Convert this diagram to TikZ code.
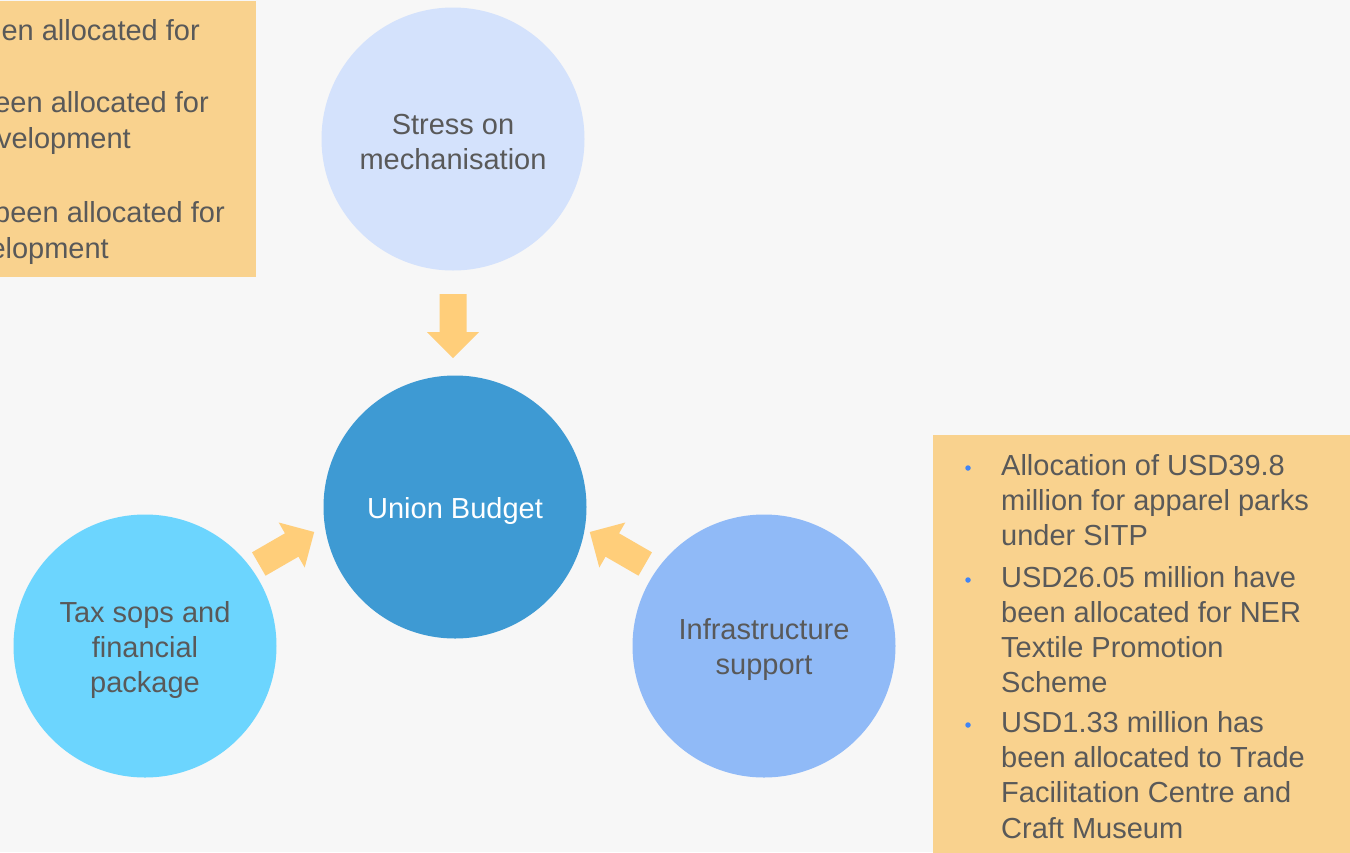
\documentclass[tikz,border=0pt]{standalone}
\usepackage{fontspec}
\setmainfont{Liberation Sans}
\definecolor{bg}{HTML}{F7F7F7}
\definecolor{boxc}{HTML}{F9D28E}
\definecolor{arr}{HTML}{FFCE7A}
\definecolor{txt}{HTML}{595959}
\definecolor{cstress}{HTML}{D4E2FC}
\definecolor{cunion}{HTML}{3E9AD3}
\definecolor{ctax}{HTML}{6CD5FE}
\definecolor{cinfra}{HTML}{90BAF7}
\definecolor{bul}{HTML}{4285F4}
\begin{document}
\begin{tikzpicture}[x=1pt,y=-1pt,
  bubble/.style={circle, minimum size=263pt, inner sep=0pt},
  bubbletext/.style={inner sep=0pt, align=center,
    font=\fontsize{29}{35}\selectfont, text=txt},
  txtline/.style={inner sep=0pt, font=\fontsize{29}{35}\selectfont, text=txt},
  bulletdot/.style={circle, fill=bul, inner sep=0pt, minimum size=5.5pt},
  fatarrow/.pic={\fill[arr] (-32,-13.5) -- (6,-13.5) -- (6,-26) -- (32,0) -- (6,26) -- (6,13.5) -- (-32,13.5) -- cycle;}]
\useasboundingbox (0,0) rectangle (1350,852);
\clip (0,0) rectangle (1350,852);
\fill[bg] (0,0) rectangle (1350,852);

% top-left (cut off) box
\fill[boxc] (-5,1) rectangle (256,277);
\node[txtline, anchor=base east] (l1) at (200,40) {en allocated for};
\node[txtline, anchor=base east] (l2) at (209,112) {een allocated for};
\node[txtline, anchor=base east] (l3) at (131,148) {velopment};
\node[txtline, anchor=base east] (l4) at (225,222) {been allocated for};
\node[txtline, anchor=base east] (l5) at (109,258) {elopment};

% right box
\fill[boxc] (933,435) rectangle (1355,857);
\node[bulletdot] (b1) at (968,468) {};
\node[bulletdot] (b2) at (968,580) {};
\node[bulletdot] (b3) at (968,725) {};
\node[txtline, anchor=base west] (r1) at (1001,475) {Allocation of USD39.8};
\node[txtline, anchor=base west] (r2) at (1001,510) {million for apparel parks};
\node[txtline, anchor=base west] (r3) at (1001,545) {under SITP};
\node[txtline, anchor=base west] (r4) at (1001,587) {USD26.05 million have};
\node[txtline, anchor=base west] (r5) at (1001,622) {been allocated for NER};
\node[txtline, anchor=base west] (r6) at (1001,657) {Textile Promotion};
\node[txtline, anchor=base west] (r7) at (1001,692) {Scheme};
\node[txtline, anchor=base west] (r8) at (1001,732) {USD1.33 million has};
\node[txtline, anchor=base west] (r9) at (1001,767) {been allocated to Trade};
\node[txtline, anchor=base west] (r10) at (1001,802) {Facilitation Centre and};
\node[txtline, anchor=base west] (r11) at (1001,838) {Craft Museum};

% circles
\node[bubble, fill=cstress] (stress) at (453,139) {};
\node[bubble, fill=cunion] (union) at (455,507) {};
\node[bubble, fill=ctax] (tax) at (145,646) {};
\node[bubble, fill=cinfra] (infra) at (764,646) {};
\node[bubbletext] (stressT) at ([yshift=-3pt]stress.center) {Stress on\\mechanisation};
\node[bubbletext, text=white] (unionT) at ([yshift=-4pt]union.center) {Union Budget};
\node[bubbletext] (taxT) at ([yshift=-4pt]tax.center) {Tax sops and\\financial\\package};
\node[bubbletext] (infraT) at ([yshift=-4pt]infra.center) {Infrastructure\\support};

% block arrows
\pic[rotate=-90] at (453,326) {fatarrow};
\pic[rotate=30] at (286.5,548) {fatarrow};
\pic[rotate=150] at (617.5,548) {fatarrow};
\end{tikzpicture}
\end{document}
